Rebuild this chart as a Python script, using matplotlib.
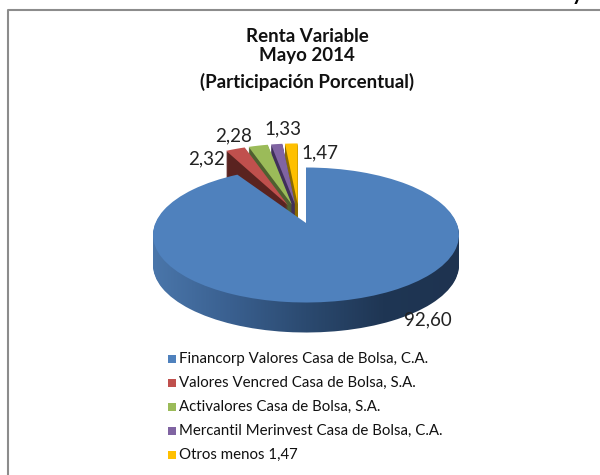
import matplotlib
matplotlib.use('Agg')
import matplotlib.pyplot as plt
import numpy as np
from matplotlib.colors import LinearSegmentedColormap
from matplotlib.path import Path

names = ['Financorp Valores Casa de Bolsa, C.A.',
         'Valores Vencred Casa de Bolsa, S.A.',
         'Activalores Casa de Bolsa, S.A.',
         'Mercantil Merinvest Casa de Bolsa, C.A.',
         'Otros menos 1,47']
values = [92.60, 2.32, 2.28, 1.33, 1.47]
value_labels = ['92,60', '2,32', '2,28', '1,33', '1,47']
colors = ['#4f81bd', '#c0504d', '#9bbb59', '#8064a2', '#ffc000']
dark = ['#2f5078', '#5a2320', '#4f6030', '#40305a', '#8a6a00']
explode = [0, 0.19, 0.19, 0.19, 0.19]

plt.rcParams['font.family'] = ['Lato', 'DejaVu Sans']

W, H = 600, 475
fig = plt.figure(figsize=(W / 100, H / 100), dpi=100)

# capa de textos en pixeles
bg = fig.add_axes([0, 0, 1, 1])
bg.set_xlim(0, W)
bg.set_ylim(H, 0)
bg.axis('off')
bg.set_zorder(5)
bg.patch.set_alpha(0)
bg.plot([600, 8, 8], [9.5, 9.5, 475], color='#8c8c8c', lw=1.5, solid_capstyle='butt')
bg.text(577, 0, 'y', ha='center', va='baseline', fontsize=15, fontweight='bold', color='black')
for t, y in zip(['Renta Variable', 'Mayo 2014', '(Participación Porcentual)'], [42, 61, 88]):
    bg.text(307, y, t, ha='center', va='baseline', fontsize=13.5, fontweight='bold', color='#111111')

# pie aplastado, 1 unidad = rx px en x y ry px en y
cx, cy, rx, ry = 306, 235, 153, 67.5
ax = fig.add_axes([(cx - 2 * rx) / W, 1 - (cy + 2 * ry) / H, 4 * rx / W, 4 * ry / H])

small_center = ((299 - cx) / rx, (cy - 217) / ry)
side_cmap = LinearSegmentedColormap.from_list('side', ['#4a76aa', '#3a6090', '#2b4a70', '#1f3654', '#1e3350'])
grad = np.linspace(0, 1, 256).reshape(1, -1)

depth = 30
for d in range(depth, -1, -1):
    # porciones chicas, separadas hacia arriba
    wedges, _ = ax.pie(values, explode=explode, colors=colors if d == 0 else dark, startangle=90,
                       counterclock=False, center=(small_center[0], small_center[1] - d / ry), radius=0.9)
    wedges[0].set_visible(False)
    for w in wedges[1:]:
        w.set_zorder(1 + depth - d)

    # porcion grande
    wedges, _ = ax.pie(values, colors=colors, startangle=90, counterclock=False,
                       center=(0, -d / ry), radius=1)
    for w in wedges[1:]:
        w.set_visible(False)
    big = wedges[0]
    big.set_zorder(60 + depth - d)
    if d == 0:
        # el vertice queda mas arriba por la perspectiva
        p = big.get_path()
        v = p.vertices.copy()
        v[np.all(np.isclose(v, [0, 0]), axis=1), 1] = 12 / ry
        big._path = Path(v, p.codes)
    else:
        big.set_facecolor('none')
        im = ax.imshow(grad, cmap=side_cmap, extent=[-1, 1, -2, 2], aspect='auto', zorder=60 + depth - d)
        im.set_clip_path(big)

ax.set_aspect('auto')
ax.set_xlim(-2, 2)
ax.set_ylim(-2, 2)
ax.axis('off')

label_pos = [(428, 320), (207, 159), (234, 136), (283, 129), (320, 153)]
for t, (x, y) in zip(value_labels, label_pos):
    bg.text(x, y, t, ha='center', va='center', fontsize=13.5, color='#222222')

# leyenda
leg_y = [359, 383, 407, 431, 455]
for n, c, y in zip(names, colors, leg_y):
    bg.scatter([172], [y - 0.5], marker='s', s=33, color=c, linewidths=0)
    bg.text(179, y, n, ha='left', va='center', fontsize=10.8, color='#111111')

fig.savefig('out.png', dpi=100)
